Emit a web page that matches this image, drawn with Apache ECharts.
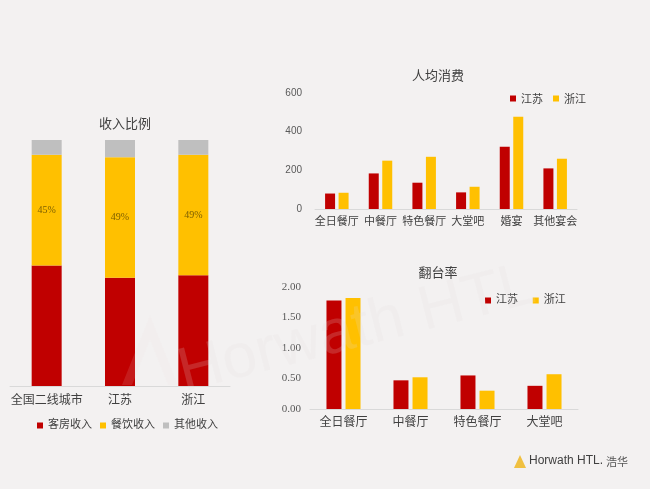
<!DOCTYPE html>
<html><head><meta charset="utf-8">
<script src="https://cdn.jsdelivr.net/npm/echarts@6/dist/echarts.min.js"></script>
<style>html,body{margin:0;padding:0;background:#f3f1f1;}#c{width:650px;height:489px;}</style>
</head><body><div id="c"></div>
<script>
// Income share chart
const incomeCats = ['全国二线城市', '江苏', '浙江'];
const roomIncome = [49, 44, 45];
const fbIncome = [45, 49, 49];
const otherIncome = [6, 7, 6];
// Per-capita spend chart
const spendCats = ['全日餐厅', '中餐厅', '特色餐厅', '大堂吧', '婚宴', '其他宴会'];
const spendJiangsu = [80, 184, 136, 86, 322, 210];
const spendZhejiang = [84, 250, 270, 115, 477, 260];
// Table turnover chart
const turnCats = ['全日餐厅', '中餐厅', '特色餐厅', '大堂吧'];
const turnJiangsu = [1.78, 0.47, 0.55, 0.38];
const turnZhejiang = [1.82, 0.52, 0.30, 0.57];

const RED = '#c00000', YEL = '#ffc000', GRY = '#bfbfbf';
const CJK = '"Noto Sans CJK SC", sans-serif';
const SERIF = '"Liberation Serif", "DejaVu Serif", "Noto Sans CJK SC", serif';
const axisLine = {show: true, lineStyle: {color: '#d9d9d9', width: 1}};

const chart = echarts.init(document.getElementById('c'));
chart.setOption({
  backgroundColor: '#f3f1f1',
  animation: false,
  title: [
    {text: '收入比例', left: 120, top: 112, textAlign: 'center',
     textStyle: {fontSize: 13, fontWeight: 'normal', color: '#404040', fontFamily: CJK}},
    {text: '人均消费', left: 433, top: 64, textAlign: 'center',
     textStyle: {fontSize: 13, fontWeight: 'normal', color: '#404040', fontFamily: CJK}},
    {text: '翻台率', left: 433, top: 261, textAlign: 'center',
     textStyle: {fontSize: 13, fontWeight: 'normal', color: '#404040', fontFamily: CJK}}
  ],
  legend: [
    {data: ['客房收入', '餐饮收入', '其他收入'], left: 32, top: 415, itemWidth: 6, itemHeight: 6, itemGap: 8,
     icon: 'rect', textStyle: {fontSize: 11, color: '#404040', fontFamily: SERIF}},
    {data: ['江苏', '浙江'], left: 505, top: 88, itemWidth: 6, itemHeight: 6, itemGap: 10,
     icon: 'rect', textStyle: {fontSize: 11, color: '#404040', fontFamily: CJK},
     selectedMode: false},
    {data: [{name: '江苏 '}, {name: '浙江 '}], left: 480, top: 290, itemWidth: 6, itemHeight: 6, itemGap: 12,
     icon: 'rect', textStyle: {fontSize: 11, color: '#404040', fontFamily: SERIF},
     selectedMode: false}
  ],
  grid: [
    {left: 10, width: 220, top: 140, height: 246},
    {left: 315, width: 262, top: 93, height: 116},
    {left: 310, width: 268, top: 287, height: 122}
  ],
  xAxis: [
    {type: 'category', gridIndex: 0, data: incomeCats, axisLine: axisLine, axisTick: {show: false},
     axisLabel: {fontSize: 12, color: '#404040', fontFamily: SERIF, margin: 9, interval: 0}},
    {type: 'category', gridIndex: 1, data: spendCats, axisLine: axisLine, axisTick: {show: false},
     axisLabel: {fontSize: 11, color: '#404040', fontFamily: SERIF, margin: 8, interval: 0}},
    {type: 'category', gridIndex: 2, data: turnCats, axisLine: axisLine, axisTick: {show: false},
     axisLabel: {fontSize: 12, color: '#404040', fontFamily: SERIF, margin: 8, interval: 0}}
  ],
  yAxis: [
    {type: 'value', gridIndex: 0, min: 0, max: 100, show: false},
    {type: 'value', gridIndex: 1, min: 0, max: 600, interval: 200, splitLine: {show: false},
     axisLine: {show: false}, axisTick: {show: false},
     axisLabel: {fontSize: 10, color: '#595959', fontFamily: '"Liberation Sans", sans-serif', margin: 13}},
    {type: 'value', gridIndex: 2, min: 0, max: 2, interval: 0.5, splitLine: {show: false},
     axisLine: {show: false}, axisTick: {show: false},
     axisLabel: {fontSize: 11, color: '#595959', fontFamily: SERIF, margin: 9,
       formatter: v => v.toFixed(2)}}
  ],
  series: [
    {name: '客房收入', type: 'bar', stack: 'inc', xAxisIndex: 0, yAxisIndex: 0, data: roomIncome,
     barWidth: 30, itemStyle: {color: RED}},
    {name: '餐饮收入', type: 'bar', stack: 'inc', xAxisIndex: 0, yAxisIndex: 0, data: fbIncome,
     barWidth: 30, itemStyle: {color: YEL},
     label: {show: true, position: 'inside', formatter: '{c}%', fontSize: 10, color: '#7f6000', fontFamily: SERIF}},
    {name: '其他收入', type: 'bar', stack: 'inc', xAxisIndex: 0, yAxisIndex: 0, data: otherIncome,
     barWidth: 30, itemStyle: {color: GRY}},
    {name: '江苏', type: 'bar', xAxisIndex: 1, yAxisIndex: 1, data: spendJiangsu,
     barWidth: 10, barGap: '35%', itemStyle: {color: RED}},
    {name: '浙江', type: 'bar', xAxisIndex: 1, yAxisIndex: 1, data: spendZhejiang,
     barWidth: 10, barGap: '35%', itemStyle: {color: YEL}},
    {name: '江苏 ', type: 'bar', xAxisIndex: 2, yAxisIndex: 2, data: turnJiangsu,
     barWidth: 15, barGap: '27%', itemStyle: {color: RED}},
    {name: '浙江 ', type: 'bar', xAxisIndex: 2, yAxisIndex: 2, data: turnZhejiang,
     barWidth: 15, barGap: '27%', itemStyle: {color: YEL}}
  ],
  graphic: [
    {type: 'text', x: 172, y: 345, rotation: 0.25, z: 100, silent: true,
     style: {text: 'Horwath HTL', fontSize: 62, fontFamily: '"Liberation Sans", sans-serif',
       fill: 'rgba(225,220,220,0.18)'}},
    {type: 'polygon', z: 100, silent: true,
     shape: {points: [[122, 385], [150, 315], [178, 385], [168, 385], [150, 340], [132, 385]]},
     style: {fill: 'rgba(235,225,225,0.12)'}},
    {type: 'polygon', silent: true,
     shape: {points: [[514, 468], [520, 455], [526, 468]]},
     style: {fill: '#f0c040'}},
    {type: 'text', x: 529, y: 455, silent: true,
     style: {text: 'Horwath HTL.', fontSize: 12, fontFamily: '"Liberation Sans", sans-serif', fill: '#404040'}},
    {type: 'text', x: 606, y: 456, silent: true,
     style: {text: '浩华', fontSize: 11, fontFamily: CJK, fill: '#555'}}
  ]
});
</script></body></html>
